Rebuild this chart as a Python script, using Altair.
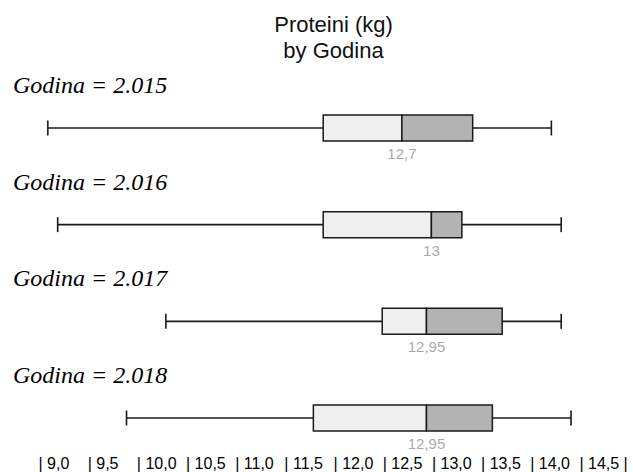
import altair as alt
import pandas as pd

# ---- data ----
years = ["2.015", "2.016", "2.017", "2.018"]
mins = [9.1, 9.2, 10.3, 9.9]
q1s = [11.9, 11.9, 12.5, 11.8]
medians = [12.7, 13.0, 12.95, 12.95]
q3s = [13.42, 13.31, 13.72, 13.62]
maxs = [14.22, 14.32, 14.32, 14.42]
tick_values = [9.0, 9.5, 10.0, 10.5, 11.0, 11.5, 12.0, 12.5, 13.0, 13.5, 14.0, 14.5]

df = pd.DataFrame({
    "idx": list(range(len(years))),
    "label": ["Godina = " + y for y in years],
    "lo": mins,
    "q1": q1s,
    "med": medians,
    "q3": q3s,
    "hi": maxs,
    "medtxt": [f"{m:g}".replace(".", ",") for m in medians],
})

x_scale = alt.Scale(domain=[9, 15.05], nice=False, zero=False, padding=0)
y_scale = alt.Scale(domain=[-0.6, 3.331], reverse=True, nice=False, zero=False, padding=0)

x_axis = alt.Axis(
    values=tick_values,
    labelExpr="'| ' + replace(format(datum.value, '.1f'), '.', ',') + (datum.value >= 14.5 ? ' |' : '')",
    labelAlign="left",
    labelBaseline="top",
    labelFont="Liberation Sans",
    labelFontSize=16,
    labelColor="#000000",
    labelPadding=5,
    labelFlush=False,
    labelOverlap=False,
    labelBound=False,
    ticks=False,
    domain=False,
    grid=False,
    title=None,
)


def X(field):
    return alt.X(field, type="quantitative", scale=x_scale, axis=x_axis)


Y = alt.Y("idx:Q", scale=y_scale, axis=None)

base = alt.Chart(df)

whisker = base.mark_rule(color="#1a1a1a", strokeWidth=1.6).encode(
    x=X("lo"), x2="hi:Q", y=Y
)
cap_lo = base.mark_tick(orient="vertical", size=15, thickness=1.6, color="#1a1a1a", opacity=1).encode(
    x=X("lo"), y=Y
)
cap_hi = base.mark_tick(orient="vertical", size=15, thickness=1.6, color="#1a1a1a", opacity=1).encode(
    x=X("hi"), y=Y
)
box_lo = base.mark_bar(
    orient="horizontal", size=26, fill="#efefef", stroke="#1a1a1a", strokeWidth=1.5
).encode(x=X("q1"), x2="med:Q", y=Y)
box_hi = base.mark_bar(
    orient="horizontal", size=26, fill="#b3b3b3", stroke="#1a1a1a", strokeWidth=1.5
).encode(x=X("med"), x2="q3:Q", y=Y)

med_text = base.mark_text(
    dy=26, fontSize=15, color="#aaaaaa", font="Liberation Sans", align="center", baseline="middle"
).encode(x=X("med"), y=Y, text="medtxt:N")

panel_titles = base.mark_text(
    align="left",
    baseline="alphabetic",
    dy=-35,
    font="Liberation Serif",
    fontStyle="italic",
    fontSize=24,
    color="#000000",
).encode(x=alt.value(-25), y=Y, text="label:N")

chart = (
    alt.layer(whisker, cap_lo, cap_hi, box_lo, box_hi, med_text, panel_titles)
    .properties(
        width=595,
        height=380,
        title=alt.TitleParams(
            text=["Proteini (kg)", "by Godina"],
            font="Liberation Sans",
            fontSize=22,
            fontWeight="normal",
            color="#111111",
            anchor="middle",
            frame="group",
            offset=7,
            lineHeight=26,
            dx=-2,
        ),
        autosize=alt.AutoSizeParams(type="none"),
        padding={"left": 38, "top": 70, "right": 0, "bottom": 22},
        background="white",
    )
    .configure_view(stroke=None)
)

chart.save("out.html", embed_options={"renderer": "svg", "actions": False})
